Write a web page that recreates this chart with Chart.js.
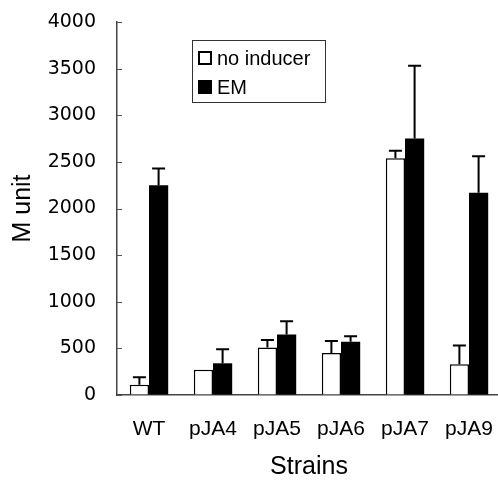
<!DOCTYPE html>
<html>
<head>
<meta charset="utf-8">
<script src="https://cdn.jsdelivr.net/npm/chart.js@4/dist/chart.umd.min.js"></script>
<style>
html,body{margin:0;padding:0;background:#fff;overflow:hidden;}
#wrap{width:502px;height:480px;}
</style>
</head>
<body>
<div id="wrap"><canvas id="c" width="502" height="480"></canvas></div>
<script>
const categories = ['WT', 'pJA4', 'pJA5', 'pJA6', 'pJA7', 'pJA9'];
const noInducer = [110, 270, 510, 450, 2540, 330];
const noInducerErr = [80, 0, 80, 130, 80, 200];
const em = [2250, 340, 650, 570, 2750, 2170];
const emErr = [180, 150, 140, 60, 780, 390];
const yTicks = [0, 500, 1000, 1500, 2000, 2500, 3000, 3500, 4000];
const seriesLabels = ['no inducer', 'EM'];

const errorBars = {
  id: 'errorBars',
  afterDatasetsDraw(chart) {
    const ctx = chart.ctx;
    const y = chart.scales.y;
    chart.data.datasets.forEach((ds, di) => {
      const meta = chart.getDatasetMeta(di);
      meta.data.forEach((bar, i) => {
        const e = ds.err[i];
        if (!e) return;
        const top = y.getPixelForValue(ds.data[i] + e);
        const base = y.getPixelForValue(ds.data[i]);
        ctx.save();
        ctx.strokeStyle = '#000';
        ctx.lineWidth = 2;
        ctx.beginPath();
        ctx.moveTo(bar.x, base);
        ctx.lineTo(bar.x, top);
        ctx.moveTo(bar.x - 6.5, top);
        ctx.lineTo(bar.x + 6.5, top);
        ctx.stroke();
        ctx.restore();
      });
    });
  }
};

const innerTicks = {
  id: 'innerTicks',
  afterDraw(chart) {
    const ctx = chart.ctx;
    const y = chart.scales.y;
    const x0 = chart.chartArea.left;
    ctx.save();
    ctx.strokeStyle = '#555';
    ctx.lineWidth = 1;
    y.ticks.forEach(t => {
      const py = Math.round(y.getPixelForValue(t.value)) + 0.5;
      ctx.beginPath();
      ctx.moveTo(x0, py);
      ctx.lineTo(x0 + 5, py);
      ctx.stroke();
    });
    ctx.restore();
  }
};

const boxLegend = {
  id: 'boxLegend',
  afterDraw(chart) {
    const ctx = chart.ctx;
    ctx.save();
    ctx.strokeStyle = '#333';
    ctx.lineWidth = 1;
    ctx.strokeRect(192.5, 40.5, 133, 62);
    ctx.font = '20px "Liberation Sans", Arial, sans-serif';
    ctx.textBaseline = 'middle';
    const rows = [58, 87];
    chart.data.datasets.forEach((ds, i) => {
      const cy = rows[i];
      if (ds.backgroundColor === '#000000') {
        ctx.fillStyle = '#000';
        ctx.fillRect(198, cy - 7, 14, 14);
      } else {
        ctx.fillStyle = '#fff';
        ctx.fillRect(198, cy - 7, 14, 14);
        ctx.strokeStyle = '#000';
        ctx.lineWidth = 2;
        ctx.strokeRect(199, cy - 6, 12, 12);
      }
      ctx.fillStyle = '#000';
      ctx.fillText(ds.label, 217, cy + 1);
    });
    ctx.restore();
  }
};

new Chart(document.getElementById('c'), {
  type: 'bar',
  data: {
    labels: categories,
    datasets: [
      { label: seriesLabels[0], data: noInducer, err: noInducerErr, backgroundColor: '#ffffff', borderColor: '#000000', borderWidth: 1.5 },
      { label: seriesLabels[1], data: em, err: emErr, backgroundColor: '#000000', borderColor: '#000000', borderWidth: 0 }
    ]
  },
  options: {
    responsive: false,
    animation: false,
    devicePixelRatio: 1,
    layout: { padding: { top: 22, right: 1, left: 0, bottom: 0 } },
    categoryPercentage: 0.6,
    barPercentage: 1.0,
    plugins: { legend: { display: false }, tooltip: { enabled: false } },
    scales: {
      x: {
        grid: { display: true, drawOnChartArea: false, drawTicks: true, tickLength: 22, tickColor: 'rgba(0,0,0,0)' },
        border: { display: true, color: '#444', width: 1.5 },
        ticks: { color: '#000', font: { family: '"Liberation Sans", Arial, sans-serif', size: 21 }, padding: 0, maxRotation: 0 },
        title: { display: true, text: 'Strains', color: '#000', font: { family: '"Liberation Sans", Arial, sans-serif', size: 25, lineHeight: 1 }, padding: { top: 0, bottom: 0 } },
        afterFit(s) { s.height = 85; }
      },
      y: {
        min: 0, max: 4000,
        afterBuildTicks(s) { s.ticks = yTicks.map(v => ({ value: v })); },
        grid: { display: true, drawOnChartArea: false, drawTicks: true, tickLength: 21, tickColor: 'rgba(0,0,0,0)' },
        border: { display: true, color: '#444', width: 1.5 },
        ticks: { color: '#000', font: { family: '"DejaVu Sans", sans-serif', size: 19 }, padding: 0, callback: v => String(v) },
        title: { display: true, text: 'M unit', color: '#000', font: { family: '"Liberation Sans", Arial, sans-serif', size: 25, lineHeight: 1 }, padding: { top: 11, bottom: 0 } },
        afterFit(s) { s.width = 117; }
      }
    }
  },
  plugins: [errorBars, innerTicks, boxLegend]
});
</script>
</body>
</html>
